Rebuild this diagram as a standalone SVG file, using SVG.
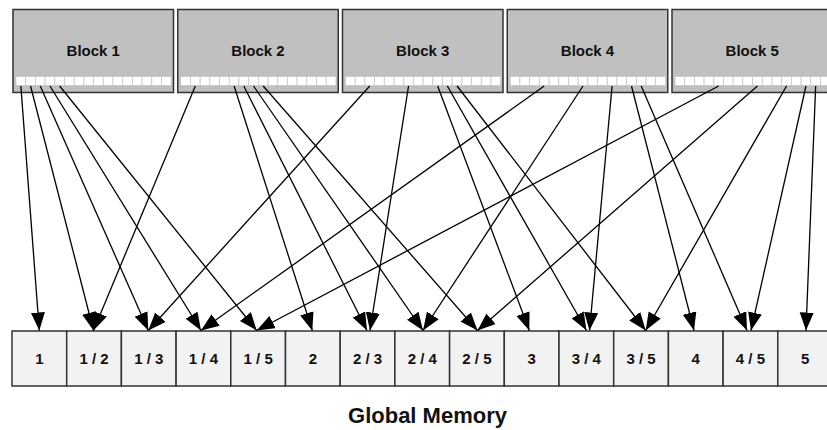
<svg xmlns="http://www.w3.org/2000/svg" width="827" height="430" viewBox="0 0 827 430">
<defs>
<style>
.blk{fill:#c0c0c0;stroke:#333;stroke-width:1.5}
.sc{fill:#fff;stroke:#c8c8c8;stroke-width:0.8}
.mem{fill:#f2f2f2;stroke:#333;stroke-width:1.5}
.bl{font-family:"Liberation Sans",Arial,sans-serif;font-weight:bold;font-size:15px;fill:#111;text-anchor:middle}
.ml{font-family:"Liberation Sans",Arial,sans-serif;font-weight:bold;font-size:15px;fill:#111;text-anchor:middle}
.tt{font-family:"Liberation Sans",Arial,sans-serif;font-weight:bold;font-size:22px;fill:#111;text-anchor:middle}
.ar{stroke:#000;stroke-width:1.3;fill:none;marker-end:url(#ah)}
</style>
<marker id="ah" markerUnits="userSpaceOnUse" markerWidth="19" markerHeight="15" refX="18" refY="7" orient="auto">
<path d="M0,0 L18,7 L0,14 z" fill="#000"/>
</marker>
<g id="strip">
<rect class="sc" x="0" y="0" width="9.7" height="9"/>
<rect class="sc" x="9.7" y="0" width="9.7" height="9"/>
<rect class="sc" x="19.4" y="0" width="9.7" height="9"/>
<rect class="sc" x="29.1" y="0" width="9.7" height="9"/>
<rect class="sc" x="38.8" y="0" width="9.7" height="9"/>
<rect class="sc" x="48.5" y="0" width="9.7" height="9"/>
<rect class="sc" x="58.2" y="0" width="9.7" height="9"/>
<rect class="sc" x="67.9" y="0" width="9.7" height="9"/>
<rect class="sc" x="77.6" y="0" width="9.7" height="9"/>
<rect class="sc" x="87.3" y="0" width="9.7" height="9"/>
<rect class="sc" x="97" y="0" width="9.7" height="9"/>
<rect class="sc" x="106.7" y="0" width="9.7" height="9"/>
<rect class="sc" x="116.4" y="0" width="9.7" height="9"/>
<rect class="sc" x="126.1" y="0" width="9.7" height="9"/>
<rect class="sc" x="135.8" y="0" width="9.7" height="9"/>
<rect class="sc" x="145.5" y="0" width="9.7" height="9"/>
</g>
</defs>
<rect x="0" y="0" width="827" height="430" fill="#fff"/>

<g id="block1">
<rect class="blk" x="13" y="9.5" width="160.5" height="83"/>
<use href="#strip" x="16" y="76.5"/>
<text class="bl" x="93.25" y="56">Block 1</text>
</g>
<g id="block2">
<rect class="blk" x="177.75" y="9.5" width="160.5" height="83"/>
<use href="#strip" x="180.75" y="76.5"/>
<text class="bl" x="258" y="56">Block 2</text>
</g>
<g id="block3">
<rect class="blk" x="342.5" y="9.5" width="160.5" height="83"/>
<use href="#strip" x="345.5" y="76.5"/>
<text class="bl" x="422.75" y="56">Block 3</text>
</g>
<g id="block4">
<rect class="blk" x="507.25" y="9.5" width="160.5" height="83"/>
<use href="#strip" x="510.25" y="76.5"/>
<text class="bl" x="587.5" y="56">Block 4</text>
</g>
<g id="block5">
<rect class="blk" x="672" y="9.5" width="160.5" height="83"/>
<use href="#strip" x="675" y="76.5"/>
<text class="bl" x="752.25" y="56">Block 5</text>
</g>

<g id="memory">
<g id="m1"><rect class="mem" x="12" y="331" width="54.7" height="55"/><text class="ml" x="39.35" y="364">1</text></g>
<g id="m12"><rect class="mem" x="66.7" y="331" width="54.7" height="55"/><text class="ml" x="94.05" y="364">1 / 2</text></g>
<g id="m13"><rect class="mem" x="121.4" y="331" width="54.7" height="55"/><text class="ml" x="148.75" y="364">1 / 3</text></g>
<g id="m14"><rect class="mem" x="176.1" y="331" width="54.7" height="55"/><text class="ml" x="203.45" y="364">1 / 4</text></g>
<g id="m15"><rect class="mem" x="230.8" y="331" width="54.7" height="55"/><text class="ml" x="258.15" y="364">1 / 5</text></g>
<g id="m2"><rect class="mem" x="285.5" y="331" width="54.7" height="55"/><text class="ml" x="312.85" y="364">2</text></g>
<g id="m23"><rect class="mem" x="340.2" y="331" width="54.7" height="55"/><text class="ml" x="367.55" y="364">2 / 3</text></g>
<g id="m24"><rect class="mem" x="394.9" y="331" width="54.7" height="55"/><text class="ml" x="422.25" y="364">2 / 4</text></g>
<g id="m25"><rect class="mem" x="449.6" y="331" width="54.7" height="55"/><text class="ml" x="476.95" y="364">2 / 5</text></g>
<g id="m3"><rect class="mem" x="504.3" y="331" width="54.7" height="55"/><text class="ml" x="531.65" y="364">3</text></g>
<g id="m34"><rect class="mem" x="559" y="331" width="54.7" height="55"/><text class="ml" x="586.35" y="364">3 / 4</text></g>
<g id="m35"><rect class="mem" x="613.7" y="331" width="54.7" height="55"/><text class="ml" x="641.05" y="364">3 / 5</text></g>
<g id="m4"><rect class="mem" x="668.4" y="331" width="54.7" height="55"/><text class="ml" x="695.75" y="364">4</text></g>
<g id="m45"><rect class="mem" x="723.1" y="331" width="54.7" height="55"/><text class="ml" x="750.45" y="364">4 / 5</text></g>
<g id="m5"><rect class="mem" x="777.8" y="331" width="54.7" height="55"/><text class="ml" x="805.15" y="364">5</text></g>
</g>

<g id="connectors">
<line class="ar" x1="20.85" y1="86" x2="39.3" y2="330.5"/>
<line class="ar" x1="30.55" y1="86" x2="93.5" y2="330.5"/>
<line class="ar" x1="40.25" y1="86" x2="148.3" y2="330.5"/>
<line class="ar" x1="49.95" y1="86" x2="201" y2="330.5"/>
<line class="ar" x1="59.65" y1="86" x2="256.7" y2="330.5"/>

<line class="ar" x1="195.3" y1="86" x2="93.5" y2="330.5"/>
<line class="ar" x1="234.1" y1="86" x2="312.3" y2="330.5"/>
<line class="ar" x1="243.8" y1="86" x2="367" y2="330.5"/>
<line class="ar" x1="253.5" y1="86" x2="423" y2="330.5"/>
<line class="ar" x1="263.2" y1="86" x2="477.5" y2="330.5"/>

<line class="ar" x1="369.75" y1="86" x2="148.3" y2="330.5"/>
<line class="ar" x1="408.55" y1="86" x2="370" y2="330.5"/>
<line class="ar" x1="437.65" y1="86" x2="529.3" y2="330.5"/>
<line class="ar" x1="447.35" y1="86" x2="586.5" y2="330.5"/>
<line class="ar" x1="457.05" y1="86" x2="645.7" y2="330.5"/>

<line class="ar" x1="544.2" y1="86" x2="201" y2="330.5"/>
<line class="ar" x1="583" y1="86" x2="423" y2="330.5"/>
<line class="ar" x1="612.1" y1="86" x2="589.5" y2="330.5"/>
<line class="ar" x1="631.5" y1="86" x2="694" y2="330.5"/>
<line class="ar" x1="641.2" y1="86" x2="747" y2="330.5"/>

<line class="ar" x1="718.65" y1="86" x2="256.7" y2="330.5"/>
<line class="ar" x1="757.45" y1="86" x2="477.5" y2="330.5"/>
<line class="ar" x1="786.55" y1="86" x2="645.7" y2="330.5"/>
<line class="ar" x1="805.95" y1="86" x2="751" y2="330.5"/>
<line class="ar" x1="815.65" y1="86" x2="806" y2="330.5"/>
</g>

<text class="tt" x="427.5" y="423">Global Memory</text>
</svg>
